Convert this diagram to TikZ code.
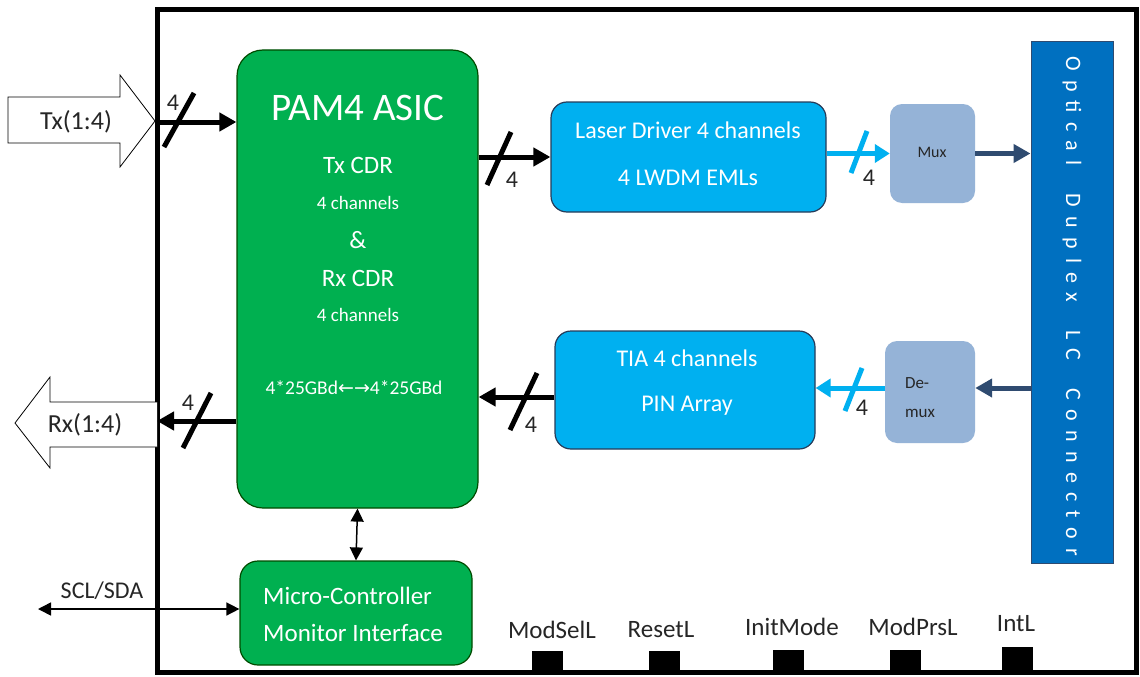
\documentclass[tikz,border=0pt]{standalone}
\usepackage{fontspec}
\setmainfont{Carlito}
\newfontfamily\arrowfont{DejaVu Sans}
\usetikzlibrary{arrows.meta}
\definecolor{asicgreen}{HTML}{00B050}
\definecolor{ltblue}{HTML}{00B0F0}
\definecolor{muxblue}{HTML}{95B3D7}
\definecolor{connblue}{HTML}{0070C0}
\definecolor{navy}{HTML}{2F4B70}
\definecolor{txtgray}{HTML}{262626}
\newcommand{\fs}[1]{\fontsize{#1}{#1}\selectfont}
\tikzset{
  greenbox/.style={draw=green!30!black, line width=1.2pt, fill=asicgreen, rounded corners=26pt, inner sep=0pt},
  bluebox/.style={draw=navy!80!black, line width=1.2pt, fill=ltblue, rounded corners=16pt, inner sep=0pt},
  muxbox/.style={fill=muxblue, rounded corners=12pt, inner sep=0pt},
  wtext/.style={text=white, inner sep=0pt},
  ktext/.style={text=txtgray, inner sep=0pt},
  bus/.style={line width=5pt, -{Triangle[length=17pt,width=18pt]}},
  lbus/.style={line width=5pt, ltblue, -{Triangle[length=15pt,width=18pt]}},
  nbus/.style={line width=5pt, navy, -{Triangle[length=17pt,width=18pt]}},
  slash/.style={line width=5pt},
  lslash/.style={line width=5pt, ltblue},
  thinarr/.style={line width=1.5pt, {Triangle[length=13pt,width=13pt]}-{Triangle[length=13pt,width=13pt]}},
  pin/.style={fill=black, minimum width=31pt, minimum height=22pt, inner sep=0pt},
  blockarr/.style={draw=black, line width=0.8pt, fill=white},
}
\begin{document}
\begin{tikzpicture}[x=1pt,y=-1pt]
\useasboundingbox[fill=white] (0,0) rectangle (1140,677);
% outer frame
\draw[line width=5pt] (157,10) rectangle (1136,672);
% Tx / Rx block arrows
\draw[blockarr] (8,97) -- (120,97) -- (120,75) -- (155,121) -- (120,167) -- (120,143) -- (8,143) -- cycle;
\node[ktext, font=\fs{26}] (txlbl) at (76,122) {Tx(1:4)};
\draw[blockarr] (157,402) -- (50,402) -- (50,377) -- (15,423) -- (50,468) -- (50,447) -- (157,447);
\node[ktext, font=\fs{26}] (rxlbl) at (85,425) {Rx(1:4)};
\coordinate (txin) at (157,122);
\coordinate (rxout) at (157,421);
% ASIC
\node[greenbox, minimum width=241pt, minimum height=458pt] (asic) at (357.5,279) {};
\node[wtext, font=\fs{39}] (asicT) at (358,108) {PAM4 ASIC};
\node[wtext, font=\fs{25}] (txcdr) at (358,165) {Tx CDR};
\node[wtext, font=\fs{19}] (txch) at (358,203) {4 channels};
\node[wtext, font=\fs{25}] (amp) at (358,240) {\&};
\node[wtext, font=\fs{25}] (rxcdr) at (358,278) {Rx CDR};
\node[wtext, font=\fs{19}] (rxch) at (358,315) {4 channels};
\node[wtext, font=\fs{19.5}] (baud) at (354,388) {4*25GBd{\arrowfont\fs{19}←→}4*25GBd};
% Laser driver
\node[bluebox, minimum width=275pt, minimum height=110pt] (ld) at (688.5,157) {};
\node[wtext, font=\fs{24}] (ldT1) at (688,130) {Laser Driver 4 channels};
\node[wtext, font=\fs{24}] (ldT2) at (688,178) {4 LWDM EMLs};
% TIA
\node[bluebox, minimum width=260pt, minimum height=118pt] (tia) at (685,390) {};
\node[wtext, font=\fs{24}] (tiaT1) at (687,358) {TIA 4 channels};
\node[wtext, font=\fs{24}] (tiaT2) at (687,406) {PIN Array};
% Mux / Demux
\node[muxbox, minimum width=85pt, minimum height=99pt] (mux) at (932.5,153.5) {};
\node[ktext, font=\fs{16}] (muxT) at (932,152) {Mux};
\node[muxbox, minimum width=90pt, minimum height=102pt] (demux) at (930,392) {};
\node[ktext, font=\fs{17}, align=left] (demuxT) at (920,398) {De-\\[12pt]mux};
% Optical connector
\node[draw=navy, line width=1pt, fill=connblue, minimum width=82pt, minimum height=521pt, inner sep=0pt] (conn) at (1072,302.5) {};
\node[wtext, rotate=-90, font=\fs{22}\addfontfeature{LetterSpace=42}] (connT) at (1072,306) {Optical\ \ Duplex\ \ LC\ \ Connector};
% Micro-controller
\node[greenbox, rounded corners=18pt, minimum width=232pt, minimum height=104pt] (mc) at (356,613) {};
\node[wtext, font=\fs{25}, anchor=west] (mcT1) at (263,596) {Micro-Controller};
\node[wtext, font=\fs{25}, anchor=west] (mcT2) at (263,633) {Monitor Interface};
% connectors
\draw[bus] (txin) -- (asic.west |- txin);
\draw[slash] (164,147) -- (194,93);
\node[ktext, font=\fs{24}] (n1) at (173,103) {4};
\draw[bus] (asic.west |- rxout) -- (rxout);
\draw[slash] (183,448) -- (211,393);
\node[ktext, font=\fs{24}] (n2) at (188,403) {4};
\draw[bus] (asic.east |- ld.west) -- (ld.west);
\draw[slash] (487,185) -- (511,132);
\node[ktext, font=\fs{24}] (n3) at (512,180) {4};
\draw[lbus] (ld.east |- mux.west) -- (mux.west);
\draw[lslash] (851,173) -- (867,131);
\node[ktext, font=\fs{24}] (n4) at (869,178) {4};
\draw[nbus] (mux.east) -- (conn.west |- mux.east);
\draw[nbus] ([yshift=4pt]conn.west |- demux.east) -- ([yshift=4pt]demux.east);
\draw[lbus] ([yshift=4pt]demux.west) -- ([yshift=4pt]tia.east |- demux.west);
\draw[lslash] (845,411) -- (862,368);
\node[ktext, font=\fs{24}] (n5) at (862,408) {4};
\draw[bus] ([yshift=-7pt]tia.west) -- ([yshift=-7pt]asic.east |- tia.west);
\draw[slash] (510,430) -- (537,373);
\node[ktext, font=\fs{24}] (n6) at (531,425) {4};
\draw[thinarr] (asic.south) -- (mc.north);
\coordinate (scl) at (38,609);
\draw[thinarr] (scl) -- (mc.west |- scl);
\node[ktext, font=\fs{24}] (sclT) at (102,591) {SCL/SDA};
% pins
\node[ktext, font=\fs{25}] (p1T) at (552,630) {ModSelL};
\node[ktext, font=\fs{25}] (p2T) at (661,630) {ResetL};
\node[ktext, font=\fs{25}] (p3T) at (792,627) {InitMode};
\node[ktext, font=\fs{25}] (p4T) at (913,627) {ModPrsL};
\node[ktext, font=\fs{25}] (p5T) at (1016,624) {IntL};
\node[pin] (p1) at (547.5,662) {};
\node[pin] (p2) at (664,662) {};
\node[pin] (p3) at (788.5,661) {};
\node[pin] (p4) at (905,661) {};
\node[pin, minimum height=26pt] (p5) at (1017,660) {};
\end{tikzpicture}
\end{document}
